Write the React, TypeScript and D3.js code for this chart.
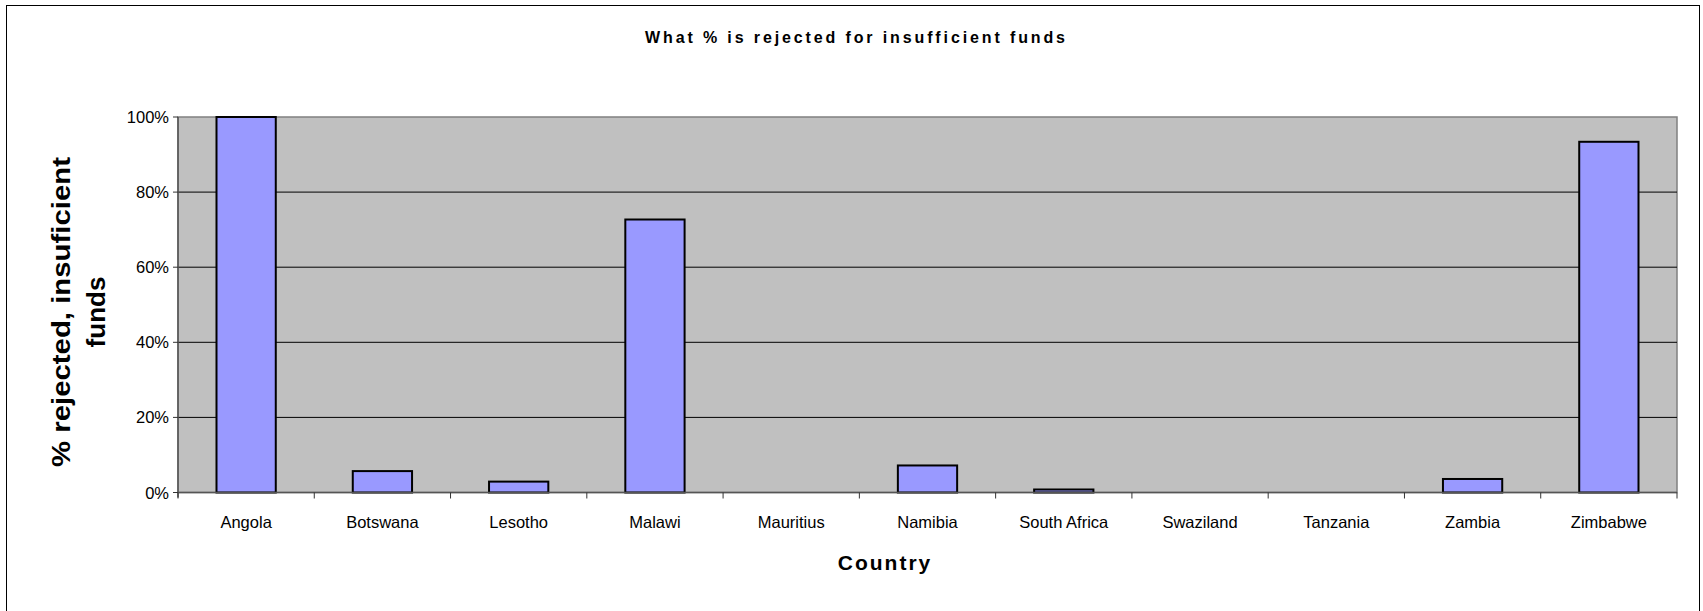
import React from "react";
import * as d3 from "d3";

const categories = ["Angola", "Botswana", "Lesotho", "Malawi", "Mauritius", "Namibia", "South Africa", "Swaziland", "Tanzania", "Zambia", "Zimbabwe"];
const values = [1.0, 0.057, 0.029, 0.727, 0, 0.072, 0.008, 0, 0, 0.036, 0.934];
const yTicks = [0, 0.2, 0.4, 0.6, 0.8, 1.0];
const title = "What % is rejected for insufficient funds";
const yTitle1 = "% rejected, insuficient";
const yTitle2 = "funds";
const xTitle = "Country";

export default function App() {
  const W = 1703, H = 611;
  const left = 178, right = 1677, top = 117, bottom = 492.5;
  const x = d3.scaleBand<string>().domain(categories).range([left, right]).paddingInner(0.565).paddingOuter(0.2825);
  const band = (right - left) / categories.length;
  const y = d3.scaleLinear().domain([0, 1]).range([bottom, top]);
  const font = "'Liberation Sans', Arial, sans-serif";
  return (
    <svg width={W} height={H} style={{ position: "absolute", left: 0, top: 0, background: "#fff" }} fontFamily={font}>
      <rect x={6.5} y={5.5} width={1693} height={620} fill="#fff" stroke="#000" strokeWidth={1} />
      <text x={855} y={43} textAnchor="middle" fontSize={16} fontWeight="bold" textLength={420} lengthAdjust="spacing">{title}</text>
      <rect x={left} y={top} width={right - left} height={bottom - top} fill="#c0c0c0" stroke="#808080" strokeWidth={1.5} />
      {yTicks.filter(t => t > 0 && t < 1).map(t => (
        <line key={t} x1={left} x2={right} y1={y(t)} y2={y(t)} stroke="#000" strokeWidth={1} />
      ))}
      {categories.map((c, i) => (
        <rect key={c} x={x(c)!} y={y(values[i])} width={x.bandwidth()} height={bottom - y(values[i])} fill="#9999ff" stroke="#000" strokeWidth={2} />
      ))}
      <line x1={left} x2={right} y1={bottom} y2={bottom} stroke="#555" strokeWidth={1.5} />
      <line x1={left} x2={left} y1={top} y2={bottom + 5} stroke="#555" strokeWidth={1.5} />
      {yTicks.map(t => (
        <g key={t}>
          <line x1={left - 5} x2={left} y1={y(t)} y2={y(t)} stroke="#333" strokeWidth={1} />
          <text x={left - 9} y={y(t) + 6} textAnchor="end" fontSize={16.5} fill="#000">{d3.format(".0%")(t)}</text>
        </g>
      ))}
      {d3.range(categories.length + 1).map(i => (
        <line key={i} x1={left + i * band} x2={left + i * band} y1={bottom} y2={bottom + 6} stroke="#333" strokeWidth={1} />
      ))}
      {categories.map(c => (
        <text key={c} x={x(c)! + x.bandwidth() / 2} y={528} textAnchor="middle" fontSize={16.5} fill="#000">{c}</text>
      ))}
      <text x={885} y={570} textAnchor="middle" fontSize={21} fontWeight="bold" letterSpacing={2}>{xTitle}</text>
      <g transform="translate(0,312) rotate(-90)">
        <text x={0} y={70} textAnchor="middle" fontSize={26} fontWeight="bold" textLength={310} lengthAdjust="spacingAndGlyphs">{yTitle1}</text>
        <text x={0} y={105} textAnchor="middle" fontSize={26} fontWeight="bold">{yTitle2}</text>
      </g>
    </svg>
  );
}
